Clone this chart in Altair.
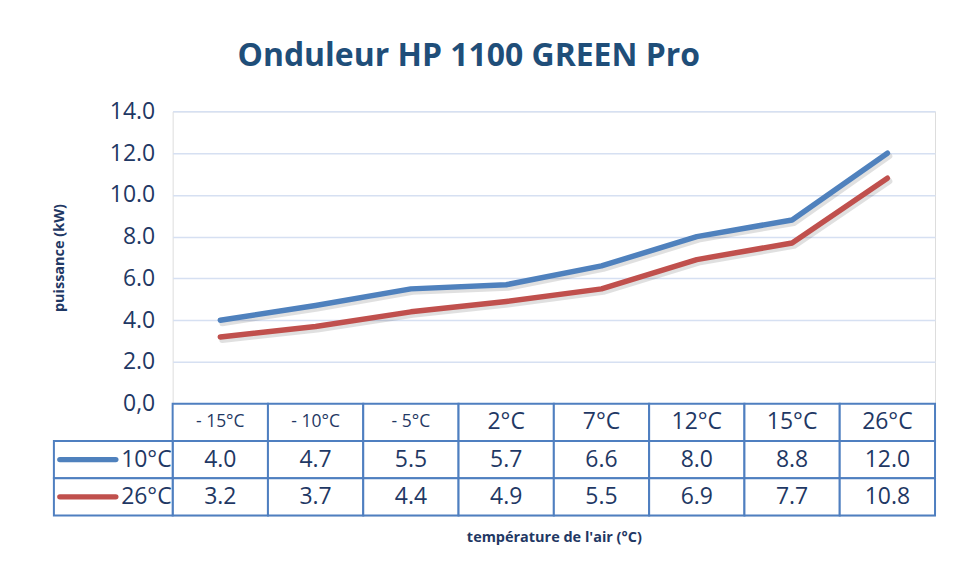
import altair as alt
import pandas as pd

categories = ["- 15°C", "- 10°C", "- 5°C", "2°C", "7°C", "12°C", "15°C", "26°C"]
series_names = ["10°C", "26°C"]
values_10 = [4.0, 4.7, 5.5, 5.7, 6.6, 8.0, 8.8, 12.0]
values_26 = [3.2, 3.7, 4.4, 4.9, 5.5, 6.9, 7.7, 10.8]
y_ticks = [0, 2, 4, 6, 8, 10, 12, 14]
small_headers = ["- 15°C", "- 10°C", "- 5°C"]

FONT = "Open Sans"
TXT = "#1F3864"
BLUE = "#4F81BD"
RED = "#C0504D"
GRID = "#D6E0F2"
TBL = "#4F7FC0"

rows = []
for s, vals in zip(series_names, [values_10, values_26]):
    for c, v in zip(categories, vals):
        rows.append({"serie": s, "cat": c, "val": v, "txt": f"{v:.1f}"})
df = pd.DataFrame(rows)

row_order = ["hdr"] + series_names
hdr = pd.DataFrame({"cat": categories, "row": "hdr", "txt": categories})
body = df.rename(columns={"serie": "row"})[["cat", "row", "txt"]]
table = pd.concat([hdr, body], ignore_index=True)
legend_df = pd.DataFrame({"row": series_names})

W = 764
xs = alt.Scale(domain=categories, paddingInner=0, paddingOuter=0)
color_scale = alt.Scale(domain=series_names, range=[BLUE, RED])

base = alt.Chart(df).encode(
    x=alt.X("cat:N", scale=xs, sort=categories, axis=None),
    y=alt.Y("val:Q", scale=alt.Scale(domain=[0, 14], nice=False),
            axis=alt.Axis(values=y_ticks, grid=True, gridColor=GRID, gridWidth=1.5,
                          domain=False, ticks=False, labelPadding=18,
                          labelFontSize=23, labelColor=TXT, labelFont=FONT,
                          labelExpr="datum.value == 0 ? '0,0' : format(datum.value, '.1f')",
                          title="puissance (kW)", titleFontSize=14.5, titleFont=FONT,
                          titleFontWeight="bold", titleColor=TXT, titlePadding=43)),
    detail="serie:N",
)
shadow = base.mark_line(strokeWidth=6, color="#000000", opacity=0.12, xOffset=2, yOffset=3,
                        strokeCap="round", strokeJoin="round")
lines = base.mark_line(strokeWidth=5.5, strokeCap="round", strokeJoin="round").encode(
    color=alt.Color("serie:N", scale=color_scale, legend=None))
top = alt.layer(shadow, lines).properties(width=W, height=293)

ys = alt.Scale(domain=row_order, paddingInner=0, paddingOuter=0)
tb = alt.Chart(table).encode(
    x=alt.X("cat:N", scale=xs, sort=categories,
            axis=alt.Axis(labels=False, ticks=False, domain=False,
                          title="température de l'air (°C)", titleFont=FONT,
                          titleFontSize=14.5, titleFontWeight="bold", titleColor=TXT,
                          titlePadding=15)),
    y=alt.Y("row:N", scale=ys, sort=row_order, axis=None),
)
cells = tb.mark_rect(fill="white", stroke=TBL, strokeWidth=2)
texts = tb.mark_text(font=FONT, color=TXT, baseline="middle").encode(
    text="txt:N",
    size=alt.condition(alt.FieldOneOfPredicate(field="txt", oneOf=small_headers),
                       alt.value(17.5), alt.value(23)),
)
leg = alt.Chart(legend_df).encode(y=alt.Y("row:N", scale=ys, sort=row_order, axis=None))
leg_cells = leg.mark_rect(fill="white", stroke=TBL, strokeWidth=2).encode(
    x=alt.value(-119), x2=alt.value(0))
leg_lines = leg.mark_rule(strokeWidth=5.5, strokeCap="round").encode(
    x=alt.value(-113), x2=alt.value(-57),
    color=alt.Color("row:N", scale=color_scale, legend=None))
leg_text = leg.mark_text(font=FONT, color=TXT, fontSize=23, align="right",
                         baseline="middle").encode(x=alt.value(-1), text="row:N")
bottom = alt.layer(cells, texts, leg_cells, leg_lines, leg_text).properties(width=W, height=112)

chart = alt.vconcat(top, bottom, spacing=0, bounds="flush").properties(
    title=alt.TitleParams("Onduleur HP 1100 GREEN Pro", font=FONT, fontSize=32,
                          fontWeight="bold", color="#1F4E79", anchor="start",
                          dx=187, offset=27),
    padding={"left": 43, "top": 31, "right": 10, "bottom": 10},
).configure_view(stroke=None).configure(background="white")

chart.save("out.html", embed_options={"renderer": "svg", "actions": False})
